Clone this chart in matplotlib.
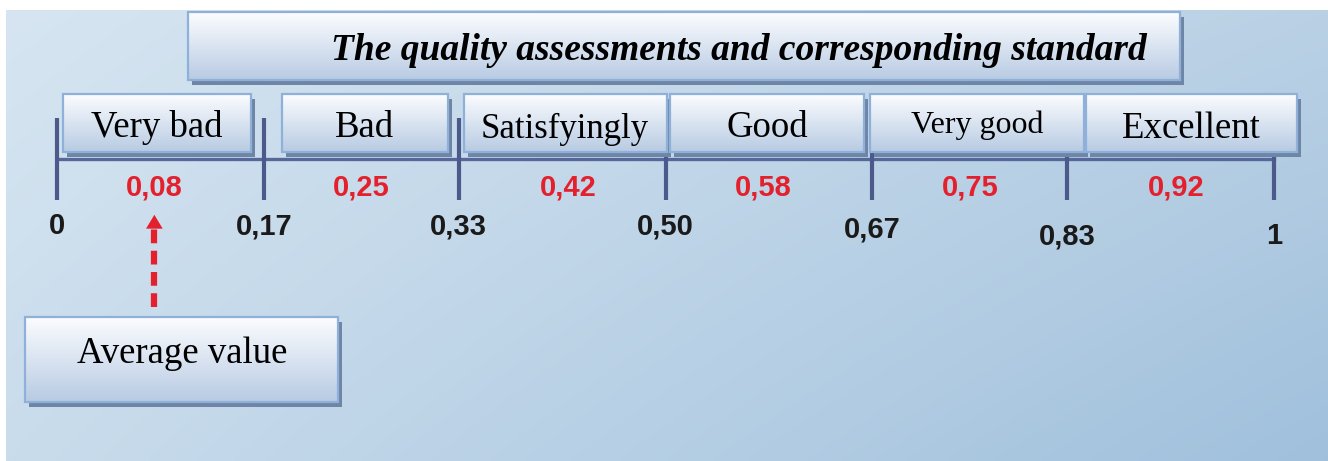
import numpy as np
import matplotlib
matplotlib.use("Agg")
import matplotlib.pyplot as plt
from matplotlib.patches import Rectangle

# scale data
bounds = [0, 0.17, 0.33, 0.50, 0.67, 0.83, 1]
bound_labels = ["0", "0,17", "0,33", "0,50", "0,67", "0,83", "1"]
mids = [0.08, 0.25, 0.42, 0.58, 0.75, 0.92]
mid_labels = ["0,08", "0,25", "0,42", "0,58", "0,75", "0,92"]
grades = ["Very bad", "Bad", "Satisfyingly", "Good", "Very good", "Excellent"]
average = 0.08
title = "The quality assessments and corresponding standard"

W, H = 1328, 461
x_lo = -57 / 1217
x_hi = 1 + 54 / 1217


def px(p):
    # horizontal pixel -> data x
    return x_lo + p / W * (x_hi - x_lo)


def dx(p):
    return p / W * (x_hi - x_lo)


fig = plt.figure(figsize=(W / 100, H / 100), dpi=100)
ax = fig.add_axes([0, 0, 1, 1])
ax.axis("off")

# background gradient panel
tl = np.array([214, 229, 241]) / 255
tr = np.array([186, 209, 229]) / 255
bl = np.array([201, 220, 236]) / 255
br = np.array([160, 192, 220]) / 255
u = np.linspace(0, 1, 200)[None, :, None]
v = np.linspace(0, 1, 80)[:, None, None]
bg = (1 - v) * ((1 - u) * tl + u * tr) + v * ((1 - u) * bl + u * br)
ax.imshow(bg, extent=(px(6), x_hi, H, 11), origin="upper", aspect="auto",
          interpolation="bilinear", zorder=0)

top_c = np.array([252, 253, 255]) / 255
bot_c = np.array([184, 203, 227]) / 255
grad = np.linspace(0, 1, 64)[:, None, None]
box_img = (1 - grad) * top_c + grad * bot_c
box_img = np.repeat(box_img, 2, axis=1)


def box(x0, x1, y0, y1):
    ax.add_patch(Rectangle((x0 + dx(4), y0 + 5), x1 - x0, y1 - y0,
                           facecolor="#6f85a6", edgecolor="none", zorder=2))
    ax.imshow(box_img, extent=(x0, x1, y1, y0), origin="upper", aspect="auto",
              interpolation="bilinear", zorder=3)
    r = Rectangle((x0, y0), x1 - x0, y1 - y0, facecolor="none",
                  edgecolor="#8fb0d8", lw=1.6, zorder=4)
    ax.add_patch(r)
    return r


# axis line and ticks
ax.plot([bounds[0], bounds[-1]], [159, 159], color="#56679a", lw=2.4, zorder=1)
ax.vlines(bounds, 118, 200, color="#4b5a8a", lw=3, zorder=1)

# title box
box(px(188), px(1180), 12, 80)
ax.text(px(739), 60, title, fontsize=27, family="Liberation Serif",
        weight="bold", style="italic", ha="center", va="baseline", zorder=5)

# grade boxes (left/right inset in px, text size, baseline)
pads = [(6, -13), (18, -11), (5, 1), (4, -8), (-2, 17), (19, 23)]
sizes = [26.5, 26.5, 25, 26.5, 23, 26.5]
bases = [137, 137, 138, 137, 133, 138]
for i, g in enumerate(grades):
    x0 = bounds[i] + dx(pads[i][0])
    x1 = bounds[i + 1] + dx(pads[i][1])
    box(x0, x1, 94, 152)
    t = ax.text((x0 + x1) / 2, bases[i], g, fontsize=sizes[i],
                family="Liberation Serif", ha="center", va="baseline", zorder=5)
    # text frame cuts the descenders, as in the source
    clip = Rectangle((x0, 94), x1 - x0, 47, transform=ax.transData)
    t.set_clip_path(clip)

# segment middle values
for m, lab in zip(mids, mid_labels):
    ax.text(m, 187, lab, fontsize=21, family="Liberation Sans", weight="bold",
            color="#e3202c", ha="center", va="center", zorder=5)

# boundary labels
label_y = [226, 226, 226, 226, 229, 236, 236]
for b, lab, y in zip(bounds, bound_labels, label_y):
    ax.text(b, y, lab, fontsize=21, family="Liberation Sans", weight="bold",
            color="#1a1a1a", ha="center", va="center", zorder=5)

# average value arrow
ax.plot([average, average], [307, 228], color="#e3202c", lw=4.5,
        ls=(0, (2.2, 1.2)), zorder=5)
ax.annotate("", xy=(average, 212), xytext=(average, 230),
            arrowprops=dict(arrowstyle="-|>,head_width=0.6,head_length=1.0",
                            color="#e3202c", lw=0), zorder=5)

box(px(25), px(338), 317, 402)
ax.text(px(182), 363, "Average value", fontsize=26.5, family="Liberation Serif",
        ha="center", va="baseline", zorder=5)

ax.set_xlim(x_lo, x_hi)
ax.set_ylim(H, 0)
fig.savefig("out.png", dpi=100, facecolor="white")
